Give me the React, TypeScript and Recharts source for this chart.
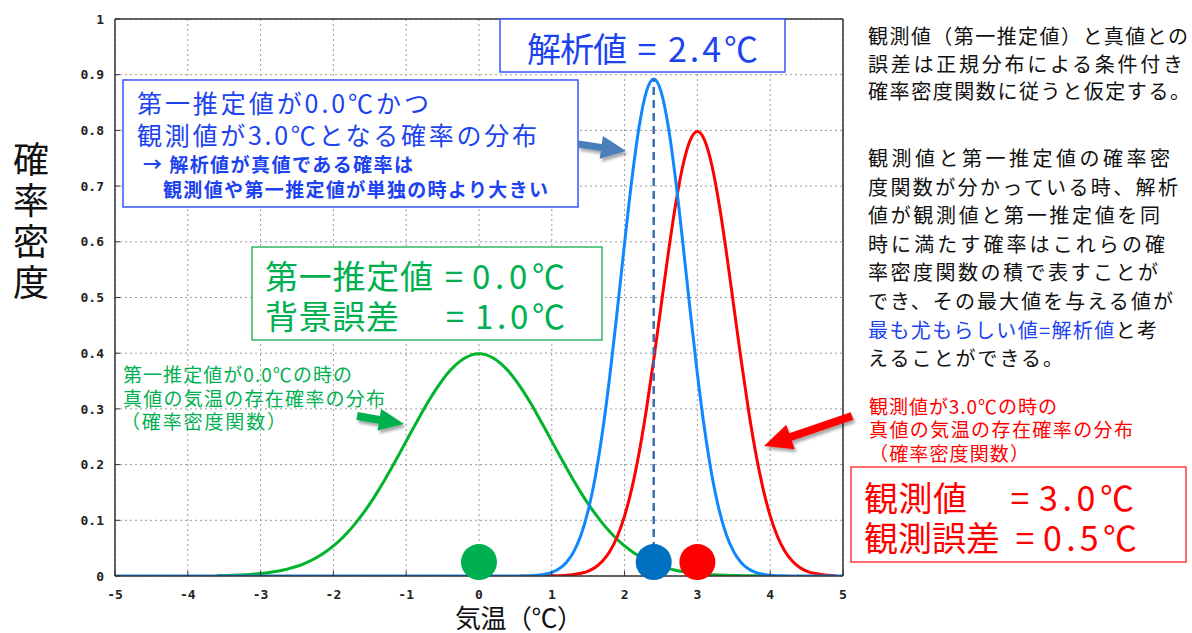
import React from 'react'
import {
  LineChart,
  Line,
  XAxis,
  YAxis,
  CartesianGrid,
  ReferenceLine,
  ReferenceDot,
} from 'recharts'

// 気温 (°C) grid
const temps = [
  -5.0, -4.9, -4.8, -4.7, -4.6, -4.5, -4.4, -4.3, -4.2, -4.1,
  -4.0, -3.9, -3.8, -3.7, -3.6, -3.5, -3.4, -3.3, -3.2, -3.1,
  -3.0, -2.9, -2.8, -2.7, -2.6, -2.5, -2.4, -2.3, -2.2, -2.1,
  -2.0, -1.9, -1.8, -1.7, -1.6, -1.5, -1.4, -1.3, -1.2, -1.1,
  -1.0, -0.9, -0.8, -0.7, -0.6, -0.5, -0.4, -0.3, -0.2, -0.1,
  0.0, 0.1, 0.2, 0.3, 0.4, 0.5, 0.6, 0.7, 0.8, 0.9,
  1.0, 1.1, 1.2, 1.3, 1.4, 1.5, 1.6, 1.7, 1.8, 1.9,
  2.0, 2.1, 2.2, 2.3, 2.4, 2.5, 2.6, 2.7, 2.8, 2.9,
  3.0, 3.1, 3.2, 3.3, 3.4, 3.5, 3.6, 3.7, 3.8, 3.9,
  4.0, 4.1, 4.2, 4.3, 4.4, 4.5, 4.6, 4.7, 4.8, 4.9,
  5.0,
]

// 第一推定値 0.0℃, 背景誤差 1.0℃
const firstGuess = [
  null, null, null, null, null, null, null, null, null, null,
  null, null, null, null, 0.0006, 0.0009, 0.0012, 0.0017, 0.0024, 0.0033,
  0.0044, 0.006, 0.0079, 0.0104, 0.0136, 0.0175, 0.0224, 0.0283, 0.0355, 0.044,
  0.054, 0.0656, 0.079, 0.094, 0.1109, 0.1295, 0.1497, 0.1714, 0.1942, 0.2179,
  0.242, 0.2661, 0.2897, 0.3123, 0.3332, 0.3521, 0.3683, 0.3814, 0.391, 0.397,
  0.3989, 0.397, 0.391, 0.3814, 0.3683, 0.3521, 0.3332, 0.3123, 0.2897, 0.2661,
  0.242, 0.2179, 0.1942, 0.1714, 0.1497, 0.1295, 0.1109, 0.094, 0.079, 0.0656,
  0.054, 0.044, 0.0355, 0.0283, 0.0224, 0.0175, 0.0136, 0.0104, 0.0079, 0.006,
  0.0044, 0.0033, 0.0024, 0.0017, 0.0012, 0.0009, 0.0006, 0.0004, 0.0003, 0.0002,
  0.0001, null, null, null, null, null, null, null, null, null,
  null,
]

// 観測値 3.0℃, 観測誤差 0.5℃
const observation = [
  null, null, null, null, null, null, null, null, null, null,
  null, null, null, null, null, null, null, null, null, null,
  null, null, null, null, null, null, null, null, null, null,
  null, null, null, null, null, null, null, null, null, null,
  null, null, null, null, null, null, null, null, null, null,
  null, null, null, null, null, null, null, null, 0.0001, 0.0001,
  0.0003, 0.0006, 0.0012, 0.0025, 0.0048, 0.0089, 0.0158, 0.0272, 0.0448, 0.071,
  0.108, 0.1579, 0.2218, 0.2995, 0.3884, 0.4839, 0.5794, 0.6664, 0.7365, 0.7821,
  0.7979, 0.7821, 0.7365, 0.6664, 0.5794, 0.4839, 0.3884, 0.2995, 0.2218, 0.1579,
  0.108, 0.071, 0.0448, 0.0272, 0.0158, 0.0089, 0.0048, 0.0025, 0.0012, 0.0006,
  null,
]

// 解析値 2.4℃ (product of the two)
const analysis = [
  0, 0, 0, 0, 0, 0, 0, 0, 0, 0,
  0, 0, 0, 0, 0, 0, 0, 0, 0, 0,
  0, 0, 0, 0, 0, 0, 0, 0, 0, 0,
  0, 0, 0, 0, 0, 0, 0, 0, 0, 0,
  0, 0, 0, 0, 0, 0, 0, 0, 0, 0,
  0, 0, 0, 0, 0, 0.0001, 0.0003, 0.0006, 0.0015, 0.0032,
  0.0066, 0.013, 0.0244, 0.0433, 0.0732, 0.1177, 0.1801, 0.262, 0.3627, 0.4775,
  0.5979, 0.7123, 0.8071, 0.87, 0.8921, 0.87, 0.8071, 0.7123, 0.5979, 0.4775,
  0.3627, 0.262, 0.1801, 0.1177, 0.0732, 0.0433, 0.0244, 0.013, 0.0066, 0.0032,
  0.0015, 0.0006, 0.0003, 0.0001, 0, 0, 0, 0, 0, 0,
  0,
]

const xTicks = [-5, -4, -3, -2, -1, 0, 1, 2, 3, 4, 5]
const yTicks = [0, 0.1, 0.2, 0.3, 0.4, 0.5, 0.6, 0.7, 0.8, 0.9, 1]

const analysisTemp = 2.4
const analysisPeak = 0.8921
const markerTemps = [0.0, 2.4, 3.0]
const markerLevel = 0.025

const rows = temps.map((t, i) => ({
  t,
  firstGuess: firstGuess[i],
  observation: observation[i],
  analysis: analysis[i],
}))

const W = 1192
const H = 633
const JP = '"Noto Sans CJK JP", "Noto Sans CJK SC", sans-serif'
const GREEN = '#00b050'
const BLUE = '#1d43f0'
const RED = '#ff0000'
const markerColors = [GREEN, '#0070c0', RED]

const tickStyle = {
  fontFamily: '"DejaVu Sans Mono", monospace',
  fontWeight: 700,
  fontSize: 13,
  fill: '#222',
}

const arrow = (x1: number, y1: number, x2: number, y2: number, shaft: number, head: number, headLen: number) => {
  const len = Math.hypot(x2 - x1, y2 - y1)
  const ux = (x2 - x1) / len
  const uy = (y2 - y1) / len
  const nx = -uy
  const ny = ux
  const bx = x2 - ux * headLen
  const by = y2 - uy * headLen
  const p = (x: number, y: number) => `${x.toFixed(1)},${y.toFixed(1)}`
  return [
    p(x1 + (nx * shaft) / 2, y1 + (ny * shaft) / 2),
    p(bx + (nx * shaft) / 2, by + (ny * shaft) / 2),
    p(bx + (nx * head) / 2, by + (ny * head) / 2),
    p(x2, y2),
    p(bx - (nx * head) / 2, by - (ny * head) / 2),
    p(bx - (nx * shaft) / 2, by - (ny * shaft) / 2),
    p(x1 - (nx * shaft) / 2, y1 - (ny * shaft) / 2),
  ].join(' ')
}

const para1 = [
  { s: '観測値（第一推定値）と真値との', w: 320 },
  { s: '誤差は正規分布による条件付き', w: 315 },
  { s: '確率密度関数に従うと仮定する。', w: 322 },
]
const para2 = [
  { s: '観測値と第一推定値の確率密', w: 302 },
  { s: '度関数が分かっている時、解析', w: 310 },
  { s: '値が観測値と第一推定値を同', w: 292 },
  { s: '時に満たす確率はこれらの確', w: 297 },
  { s: '率密度関数の積で表すことが', w: 290 },
  { s: 'でき、その最大値を与える値が', w: 305 },
  { s: '', w: 289 },
  { s: 'えることができる。', w: 195 },
]

const Overlay = () => (
  <svg
    width={W}
    height={H}
    style={{ position: 'absolute', left: 0, top: 0, pointerEvents: 'none' }}
    fontFamily={JP}
  >
    <defs>
      <filter id="shadow" x="-20%" y="-40%" width="140%" height="180%">
        <feDropShadow dx="2" dy="3" stdDeviation="1.5" floodColor="#000" floodOpacity="0.35" />
      </filter>
    </defs>

    {/* axis titles */}
    <text x={31} y={141} fontSize={36} letterSpacing={5} fill="#111" style={{ writingMode: 'vertical-rl' }}>
      確率密度
    </text>
    <text x={455} y={628} fontSize={26} fill="#111" textLength={128} lengthAdjust="spacing">
      気温（℃）
    </text>

    {/* 解析値 box */}
    <rect x={500} y={19} width={285} height={53} fill="#fff" stroke="#3355ff" strokeWidth={1.5} />
    <text x={527} y={62} fontSize={34} fill={BLUE} textLength={100} lengthAdjust="spacing">解析値</text>
    <text x={647} y={62} fontSize={34} fill={BLUE} textAnchor="middle">=</text>
    <text x={668} y={62} fontSize={34} fill={BLUE} textLength={90} lengthAdjust="spacing">2.4℃</text>

    {/* conditional distribution box */}
    <rect x={123} y={80} width={455} height={127} fill="#fff" stroke="#3355ff" strokeWidth={1.5} />
    <text x={137} y={113} fontSize={25} fill={BLUE} textLength={292} lengthAdjust="spacing">
      第一推定値が0.0℃かつ
    </text>
    <text x={137} y={145} fontSize={25} fill={BLUE} textLength={400} lengthAdjust="spacing">
      観測値が3.0℃となる確率の分布
    </text>
    <text x={143} y={172} fontSize={19} fontWeight={700} fill={BLUE} textLength={270} lengthAdjust="spacing">
      → 解析値が真値である確率は
    </text>
    <text x={163} y={197} fontSize={19} fontWeight={700} fill={BLUE} textLength={385} lengthAdjust="spacing">
      観測値や第一推定値が単独の時より大きい
    </text>
    <polygon points={arrow(578, 144, 626, 151, 7, 23, 25)} fill="#4a7ebb" filter="url(#shadow)" />

    {/* first guess box */}
    <rect x={252} y={247} width={350} height={93} fill="#fff" stroke="#2fb865" strokeWidth={1.5} />
    <text x={265} y={289} fontSize={33} fill={GREEN} textLength={168} lengthAdjust="spacing">第一推定値</text>
    <text x={454} y={289} fontSize={33} fill={GREEN} textAnchor="middle">=</text>
    <text x={472} y={289} fontSize={33} fill={GREEN} textLength={93} lengthAdjust="spacing">0.0℃</text>
    <text x={265} y={329} fontSize={33} fill={GREEN} textLength={134} lengthAdjust="spacing">背景誤差</text>
    <text x={455} y={329} fontSize={33} fill={GREEN} textAnchor="middle">=</text>
    <text x={475} y={329} fontSize={33} fill={GREEN} textLength={90} lengthAdjust="spacing">1.0℃</text>

    {/* first guess note */}
    <text x={123} y={382} fontSize={19} fill={GREEN} textLength={229} lengthAdjust="spacing">第一推定値が0.0℃の時の</text>
    <text x={123} y={406} fontSize={19} fill={GREEN} textLength={262} lengthAdjust="spacing">真値の気温の存在確率の分布</text>
    <text x={121} y={429} fontSize={19} fill={GREEN} textLength={165} lengthAdjust="spacing">（確率密度関数）</text>
    <polygon points={arrow(357, 416, 404, 424, 8, 22, 25)} fill={GREEN} filter="url(#shadow)" />

    {/* observation note */}
    <text x={869} y={414} fontSize={19} fill={RED} textLength={188} lengthAdjust="spacing">観測値が3.0℃の時の</text>
    <text x={869} y={437} fontSize={19} fill={RED} textLength={264} lengthAdjust="spacing">真値の気温の存在確率の分布</text>
    <text x={869} y={461} fontSize={19} fill={RED} textLength={160} lengthAdjust="spacing">（確率密度関数）</text>
    <polygon points={arrow(852, 416, 764, 446, 8, 26, 28)} fill={RED} filter="url(#shadow)" />

    {/* observation box */}
    <rect x={851} y={467} width={335} height={95} fill="#fff" stroke="#ff3b3b" strokeWidth={1.5} />
    <text x={864} y={511} fontSize={34} fill={RED} textLength={103} lengthAdjust="spacing">観測値</text>
    <text x={1020} y={511} fontSize={34} fill={RED} textAnchor="middle">=</text>
    <text x={1039} y={511} fontSize={34} fill={RED} textLength={95} lengthAdjust="spacing">3.0℃</text>
    <text x={864} y={551} fontSize={34} fill={RED} textLength={136} lengthAdjust="spacing">観測誤差</text>
    <text x={1025} y={551} fontSize={34} fill={RED} textAnchor="middle">=</text>
    <text x={1043} y={551} fontSize={34} fill={RED} textLength={94} lengthAdjust="spacing">0.5℃</text>

    {/* explanation */}
    {para1.map((l, i) => (
      <text key={`p1${i}`} x={868} y={44 + i * 27.5} fontSize={20} fill="#111" textLength={l.w} lengthAdjust="spacing">
        {l.s}
      </text>
    ))}
    {para2.map((l, i) => (
      <text key={`p2${i}`} x={868} y={166 + i * 28.6} fontSize={20} fill="#111" textLength={l.w} lengthAdjust="spacing">
        {i === 6 ? (
          <>
            <tspan fill={BLUE}>最も尤もらしい値=解析値</tspan>
            <tspan>と考</tspan>
          </>
        ) : (
          l.s
        )}
      </text>
    ))}
  </svg>
)

export default function App() {
  return (
    <div style={{ position: 'absolute', left: 0, top: 0, width: W, height: H, background: '#fff' }}>
      <LineChart width={W} height={H} data={rows} margin={{ top: 18, right: 348, bottom: 27, left: 75 }}>
        <CartesianGrid stroke="#9a9a9a" strokeDasharray="2 3" />
        <XAxis
          dataKey="t"
          type="number"
          domain={[-5, 5]}
          ticks={xTicks}
          interval={0}
          allowDataOverflow
          height={30}
          tickSize={-5}
          tickMargin={19}
          tick={tickStyle}
          axisLine={{ stroke: '#333', strokeWidth: 1.5 }}
          tickLine={{ stroke: '#333' }}
        />
        <XAxis
          xAxisId="top"
          orientation="top"
          type="number"
          domain={[-5, 5]}
          ticks={xTicks}
          interval={0}
          allowDataOverflow
          height={1}
          tickSize={-5}
          tick={false}
          axisLine={{ stroke: '#333', strokeWidth: 1.5 }}
          tickLine={{ stroke: '#333' }}
        />
        <YAxis
          type="number"
          domain={[0, 1]}
          ticks={yTicks}
          interval={0}
          allowDataOverflow
          width={40}
          tickSize={-5}
          tickMargin={16}
          tick={tickStyle}
          axisLine={{ stroke: '#333', strokeWidth: 1.5 }}
          tickLine={{ stroke: '#333' }}
        />
        <YAxis
          yAxisId="right"
          orientation="right"
          type="number"
          domain={[0, 1]}
          ticks={yTicks}
          interval={0}
          allowDataOverflow
          width={1}
          tickSize={-5}
          tick={false}
          axisLine={{ stroke: '#333', strokeWidth: 1.5 }}
          tickLine={{ stroke: '#333' }}
        />
        <Line type="monotone" dataKey="firstGuess" stroke="#00b42a" strokeWidth={3} dot={false} isAnimationActive={false} />
        <Line type="monotone" dataKey="observation" stroke="#ff0000" strokeWidth={3} dot={false} isAnimationActive={false} />
        <Line type="monotone" dataKey="analysis" stroke="#0f88ff" strokeWidth={3} dot={false} isAnimationActive={false} />
        <ReferenceLine
          segment={[
            { x: analysisTemp, y: 0 },
            { x: analysisTemp, y: analysisPeak },
          ]}
          stroke="#3d6db5"
          strokeWidth={2.5}
          strokeDasharray="8 5"
        />
        {markerTemps.map((t, i) => (
          <ReferenceDot key={t} x={t} y={markerLevel} r={18} fill={markerColors[i]} stroke="none" />
        ))}
      </LineChart>
      <Overlay />
    </div>
  )
}
